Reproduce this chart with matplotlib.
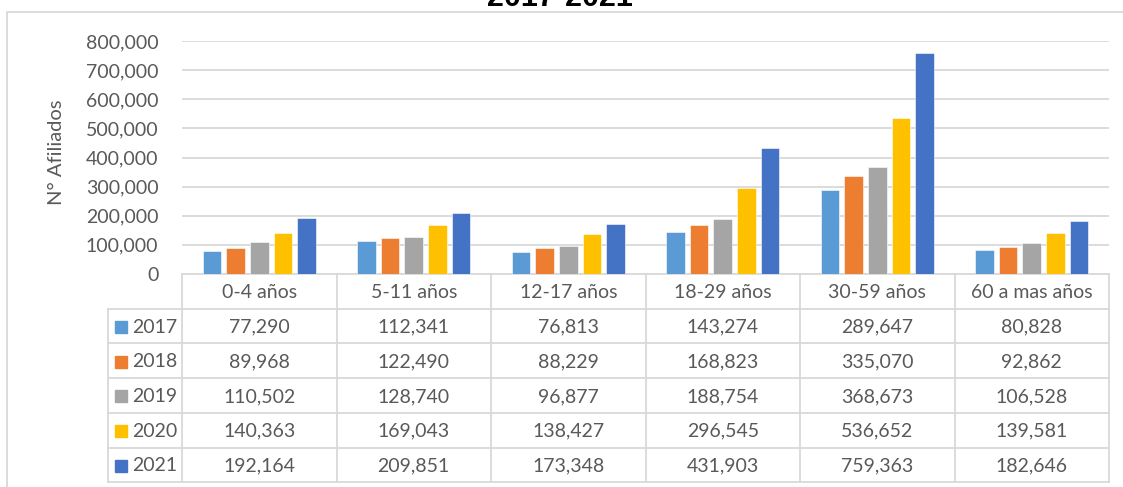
import matplotlib
matplotlib.use("Agg")
import matplotlib.pyplot as plt
import numpy as np
from matplotlib import ticker

# data
categories = ['0-4 años', '5-11 años', '12-17 años', '18-29 años', '30-59 años', '60 a mas años']
years = ['2017', '2018', '2019', '2020', '2021']
v2017 = [77290, 112341, 76813, 143274, 289647, 80828]
v2018 = [89968, 122490, 88229, 168823, 335070, 92862]
v2019 = [110502, 128740, 96877, 188754, 368673, 106528]
v2020 = [140363, 169043, 138427, 296545, 536652, 139581]
v2021 = [192164, 209851, 173348, 431903, 759363, 182646]
series = [v2017, v2018, v2019, v2020, v2021]
colors = ['#5B9BD5', '#ED7D31', '#A5A5A5', '#FFC000', '#4472C4']

plt.rcParams['font.family'] = ['Lato', 'DejaVu Sans']
txtc = '#595959'
linec = '#D9D9D9'
fs = 14

W, H = 1123, 487
fig = plt.figure(figsize=(W/100, H/100), dpi=100)

def fx(px):
    return px / W

def fy(py):
    return 1 - py / H

# pixel layout
left, right, top, base = 182, 1109, 41, 274
ax = fig.add_axes([fx(left), fy(base), (right-left)/W, (base-top)/H])
ax.set_facecolor('none')

x = np.arange(len(categories))
bw, pitch = 0.12, 0.153
for i, vals in enumerate(series):
    ax.bar(x + (i-2)*pitch, vals, width=bw, color=colors[i], edgecolor='white', linewidth=0.4, zorder=3)

ax.set_xlim(-0.5, len(categories)-0.5)
ax.set_ylim(0, 800000)
ax.set_yticks(np.arange(0, 800001, 100000))
ax.yaxis.set_major_formatter(ticker.StrMethodFormatter('{x:,.0f}'))
ax.yaxis.grid(True, color=linec, lw=1.3)
ax.set_axisbelow(True)
ax.set_xticks([])
for s in ax.spines.values():
    s.set_visible(False)
ax.tick_params(axis='y', length=0, pad=17, labelsize=fs, labelcolor=txtc)

fig.text(fx(57), fy(152), 'N° Afiliados', rotation=90, ha='center', va='center',
         fontsize=fs+0.5, color=txtc)

fig.text(fx(560), fy(6.5), '2017-2021', fontsize=22, fontweight='bold', ha='center',
         va='baseline', family='Liberation Sans', color='black')

# table drawn on an overlay in pixel coords
tax = fig.add_axes([0, 0, 1, 1], zorder=-1)
tax.set_xlim(0, W)
tax.set_ylim(H, 0)
tax.axis('off')

# chart frame
tax.plot([7, 7, W], [H, 12, 12], color=linec, lw=1.3)

colw = (right - left) / len(categories)
rowh = 34.7
leg_left = 108
rows_y = [base + k*rowh for k in range(len(years)+2)]

tax.plot([left, right], [rows_y[0], rows_y[0]], color=linec, lw=1.3)
for yy in rows_y[1:]:
    tax.plot([leg_left, right], [yy, yy], color=linec, lw=1.3)
tax.plot([leg_left, leg_left], [rows_y[1], rows_y[-1]], color=linec, lw=1.3)
for k in range(len(categories)+1):
    xx = left + k*colw
    tax.plot([xx, xx], [rows_y[0], rows_y[-1]], color=linec, lw=1.3)

for j, cat in enumerate(categories):
    tax.text(left + (j+0.5)*colw, (rows_y[0]+rows_y[1])/2 + 1, cat, ha='center', va='center',
             fontsize=fs, color=txtc)

for i, (yr, vals) in enumerate(zip(years, series)):
    yc = (rows_y[i+1] + rows_y[i+2]) / 2 + 1
    tax.add_patch(plt.Rectangle((115, yc-6), 12, 12, color=colors[i]))
    tax.text(132, yc, yr, ha='left', va='center', fontsize=fs, color=txtc)
    for j, v in enumerate(vals):
        tax.text(left + (j+0.5)*colw, yc, f'{v:,}', ha='center', va='center',
                 fontsize=fs, color=txtc)

fig.savefig('out.png', dpi=100)
